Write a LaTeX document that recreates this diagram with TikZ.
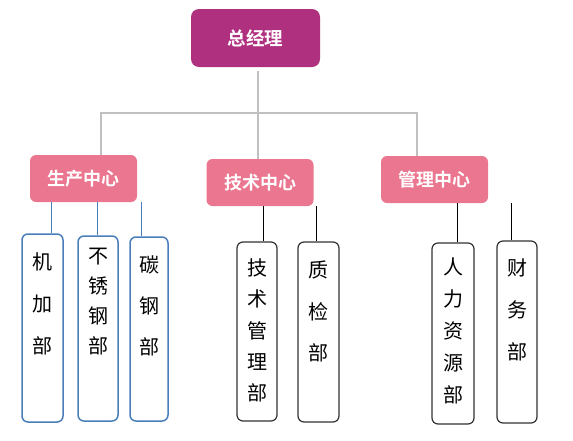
\documentclass[tikz,border=0pt]{standalone}
\usepackage{fontspec}
\newfontfamily\cjk{Noto Sans CJK SC}
\newfontfamily\cjkb{Noto Sans CJK SC Bold}
\definecolor{topc}{RGB}{176,48,128}
\definecolor{midc}{RGB}{234,118,143}
\definecolor{grayln}{RGB}{192,192,192}
\definecolor{blueln}{RGB}{74,126,187}
\definecolor{darkln}{RGB}{50,50,50}
\tikzset{
  topbox/.style={fill=topc, draw=none, rounded corners=8pt, minimum width=129pt, minimum height=58pt, text=white, font=\cjkb\fontsize{18.5}{20}\selectfont, inner sep=0pt},
  midbox/.style={fill=midc, draw=none, rounded corners=6pt, minimum width=107pt, minimum height=47pt, text=white, font=\cjkb\fontsize{18}{20}\selectfont, inner sep=0pt},
  bluebox/.style={draw=blueln, line width=1.5pt, fill=white, rounded corners=6pt, inner sep=0pt},
  darkbox/.style={draw=darkln, line width=1.2pt, fill=white, rounded corners=6pt, inner sep=0pt},
  graylink/.style={draw=grayln, line width=2.6pt},
  bluelink/.style={draw=blueln, line width=1pt},
  darklink/.style={draw=black, line width=1pt},
  vtext/.style={align=center, inner sep=0pt, font=\cjk\fontsize{20}{#1}\selectfont}
}
\begin{document}
\begin{tikzpicture}[x=1pt,y=-1pt]
\useasboundingbox (0,0) rectangle (573,440);
% top
\node[topbox] (top) at (255.5,38) {总经理};
% centers
\node[midbox] (c1) at (83.5,178.5) {生产中心};
\node[midbox] (c2) at (260,182.5) {技术中心};
\node[midbox] (c3) at (434.5,179.5) {管理中心};
% junctions
\coordinate (jl) at (101,113);
\coordinate (jc) at (258,113);
\coordinate (jr) at (417,113);
\draw[graylink] (jc |- top.south) ++(0,4) -- (jc);
\draw[graylink] (jl |- c1.north) -- (jl) -- (jr) -- (jr |- c3.north);
\draw[graylink] (jc) -- (jc |- c2.north);
% bottom boxes
\node[bluebox, minimum width=41pt, minimum height=188pt] (b1) at (42.5,328) {};
\node[bluebox, minimum width=40pt, minimum height=185pt] (b2) at (98,328.5) {};
\node[bluebox, minimum width=38pt, minimum height=184pt] (b3) at (149,329) {};
\node[darkbox, minimum width=40pt, minimum height=179pt] (b4) at (257,331.5) {};
\node[darkbox, minimum width=41pt, minimum height=180pt] (b5) at (318.5,332) {};
\node[darkbox, minimum width=42pt, minimum height=181pt] (b6) at (453,333.5) {};
\node[darkbox, minimum width=40pt, minimum height=182pt] (b7) at (517,332) {};
% texts
\node[vtext=42] (t1) at (42.5,304) {机\\加\\部};
\node[vtext=30] (t2) at (98,302) {不\\锈\\钢\\部};
\node[vtext=41] (t3) at (149,306) {碳\\钢\\部};
\node[vtext=31.3] (t4) at (257,330.5) {技\\术\\管\\理\\部};
\node[vtext=41.5] (t5) at (318.5,311.5) {质\\检\\部};
\node[vtext=32] (t6) at (453,331) {人\\力\\资\\源\\部};
\node[vtext=42] (t7) at (517,310) {财\\务\\部};
% links
\draw[bluelink] (c1.south -| 51,0) -- (b1.north -| 51,0);
\draw[bluelink] (c1.south -| 97,0) -- (b2.north -| 97,0);
\draw[bluelink] (c1.south -| 141,0) -- (b3.north -| 141,0);
\draw[darklink] (c2.south -| 263,0) -- (b4.north -| 263,0);
\draw[darklink] (c2.south -| 316,0) -- (b5.north -| 316,0);
\draw[darklink] (c3.south -| 457,0) -- (b6.north -| 457,0);
\draw[darklink] (c3.south -| 511,0) -- (b7.north -| 511,0);
\end{tikzpicture}
\end{document}
